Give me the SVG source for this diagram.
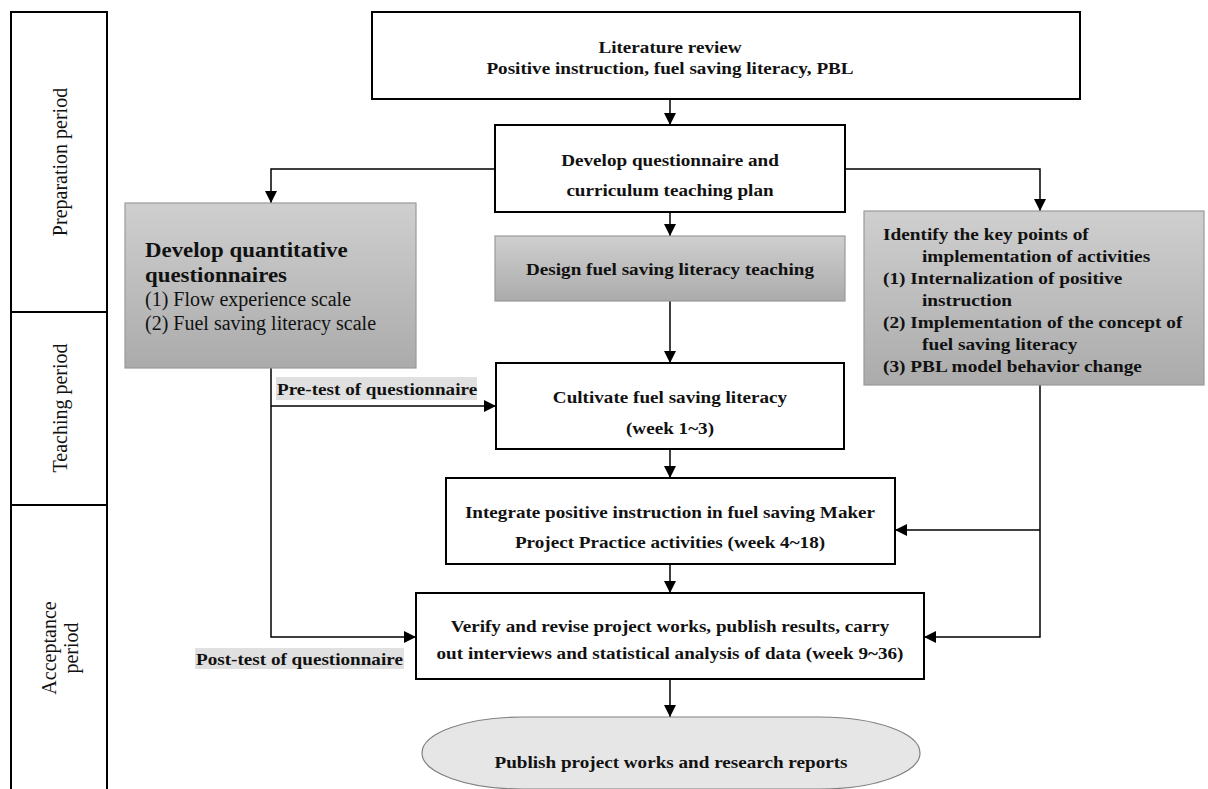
<svg xmlns="http://www.w3.org/2000/svg" width="1208" height="789" viewBox="0 0 1208 789">
<style>
.box{fill:#fff;stroke:#000;stroke-width:2}
.gbox{fill:url(#gg);stroke:#9a9a9a;stroke-width:1.2}
.t{font-family:"Liberation Serif","Times New Roman",serif;font-weight:bold;font-size:16.5px;fill:#111}
.r{font-family:"Liberation Serif","Times New Roman",serif;font-size:20px;fill:#111}
.c{text-anchor:middle}
.ln{fill:none;stroke:#000;stroke-width:1.5}
.lab{fill:#e0e0e0}
</style>
<defs>
<linearGradient id="gg" x1="0" y1="0" x2="0" y2="1">
<stop offset="0" stop-color="#cfcfcf"/>
<stop offset="1" stop-color="#ababab"/>
</linearGradient>
<marker id="ah" viewBox="0 0 12 12" refX="12" refY="6" markerWidth="12" markerHeight="12" markerUnits="userSpaceOnUse" orient="auto">
<path d="M0,0 L12,6 L0,12 Z" fill="#000"/>
</marker>
</defs>

<g id="periods">
<rect x="11" y="12" width="96" height="800" fill="#fff" stroke="#000" stroke-width="2"/>
<line x1="11" y1="312" x2="107" y2="312" stroke="#000" stroke-width="2"/>
<line x1="11" y1="505" x2="107" y2="505" stroke="#000" stroke-width="2"/>
<text class="r c" transform="translate(67,162) rotate(-90)">Preparation period</text>
<text class="r c" transform="translate(67,408) rotate(-90)">Teaching period</text>
<text class="r c" transform="translate(56,648) rotate(-90)">Acceptance</text>
<text class="r c" transform="translate(78,648) rotate(-90)">period</text>
</g>

<g id="connectors">
<line class="ln" x1="670" y1="99" x2="670" y2="125" marker-end="url(#ah)"/>
<polyline class="ln" points="495,169 271,169 271,203" marker-end="url(#ah)"/>
<polyline class="ln" points="845,169 1040,169 1040,211" marker-end="url(#ah)"/>
<line class="ln" x1="670" y1="212" x2="670" y2="236" marker-end="url(#ah)"/>
<line class="ln" x1="670" y1="301" x2="670" y2="363" marker-end="url(#ah)"/>
<line class="ln" x1="670" y1="449" x2="670" y2="478" marker-end="url(#ah)"/>
<line class="ln" x1="670" y1="564" x2="670" y2="593" marker-end="url(#ah)"/>
<line class="ln" x1="670" y1="679" x2="670" y2="717" stroke-width="2" marker-end="url(#ah)"/>
<polyline class="ln" points="271,368 271,637 416,637" marker-end="url(#ah)"/>
<line class="ln" x1="271" y1="406" x2="496" y2="406" marker-end="url(#ah)"/>
<polyline class="ln" points="1040,385 1040,637 924,637" marker-end="url(#ah)"/>
<line class="ln" x1="1040" y1="530" x2="895" y2="530" marker-end="url(#ah)"/>
<rect class="lab" x="276" y="377" width="201" height="23"/>
<text class="t" transform="translate(277,395) scale(1.16,1)">Pre-test of questionnaire</text>
<rect class="lab" x="195" y="648" width="209" height="21"/>
<text class="t" transform="translate(196,665) scale(1.16,1)">Post-test of questionnaire</text>
</g>

<g id="lit">
<rect class="box" x="372" y="12" width="708" height="87"/>
<text class="t c" transform="translate(670,53) scale(1.16,1)">Literature review</text>
<text class="t c" transform="translate(670,74) scale(1.16,1)">Positive instruction, fuel saving literacy, PBL</text>
</g>

<g id="develop">
<rect class="box" x="495" y="125" width="350" height="87"/>
<text class="t c" transform="translate(670,166) scale(1.16,1)">Develop questionnaire and</text>
<text class="t c" transform="translate(670,196) scale(1.16,1)">curriculum teaching plan</text>
</g>

<g id="quant">
<rect class="gbox" x="125" y="203" width="291" height="165"/>
<text class="t" transform="translate(145,257) scale(1.09,1)" style="font-size:21px">Develop quantitative</text>
<text class="t" transform="translate(145,282) scale(1.09,1)" style="font-size:21px">questionnaires</text>
<text class="r" x="145" y="306">(1) Flow experience scale</text>
<text class="r" x="145" y="330">(2) Fuel saving literacy scale</text>
</g>

<g id="design">
<rect class="gbox" x="495" y="236" width="350" height="65"/>
<text class="t c" transform="translate(670,275) scale(1.16,1)">Design fuel saving literacy teaching</text>
</g>

<g id="keypoints">
<rect class="gbox" x="864" y="211" width="340" height="174"/>
<text class="t" transform="translate(883,240) scale(1.17,1)">Identify the key points of</text>
<text class="t" transform="translate(922,262) scale(1.17,1)">implementation of activities</text>
<text class="t" transform="translate(883,284) scale(1.17,1)">(1) Internalization of positive</text>
<text class="t" transform="translate(922,306) scale(1.17,1)">instruction</text>
<text class="t" transform="translate(883,328) scale(1.17,1)">(2) Implementation of the concept of</text>
<text class="t" transform="translate(922,350) scale(1.17,1)">fuel saving literacy</text>
<text class="t" transform="translate(883,372) scale(1.17,1)">(3) PBL model behavior change</text>
</g>

<g id="cultivate">
<rect class="box" x="496" y="363" width="348" height="86"/>
<text class="t c" transform="translate(670,403) scale(1.16,1)">Cultivate fuel saving literacy</text>
<text class="t c" transform="translate(670,434) scale(1.16,1)">(week 1~3)</text>
</g>

<g id="integrate">
<rect class="box" x="446" y="478" width="449" height="86"/>
<text class="t c" transform="translate(670,518) scale(1.16,1)">Integrate positive instruction in fuel saving Maker</text>
<text class="t c" transform="translate(670,548) scale(1.16,1)">Project Practice activities (week 4~18)</text>
</g>

<g id="verify">
<rect class="box" x="416" y="593" width="508" height="86"/>
<text class="t c" transform="translate(670,632) scale(1.16,1)">Verify and revise project works, publish results, carry</text>
<text class="t c" transform="translate(670,659) scale(1.16,1)">out interviews and statistical analysis of data (week 9~36)</text>
</g>

<g id="publish">
<rect x="422" y="717" width="498" height="72" rx="100" ry="36" fill="#e6e6e6" stroke="#808080" stroke-width="1.2"/>
<text class="t c" transform="translate(671,768) scale(1.16,1)">Publish project works and research reports</text>
</g>
</svg>
